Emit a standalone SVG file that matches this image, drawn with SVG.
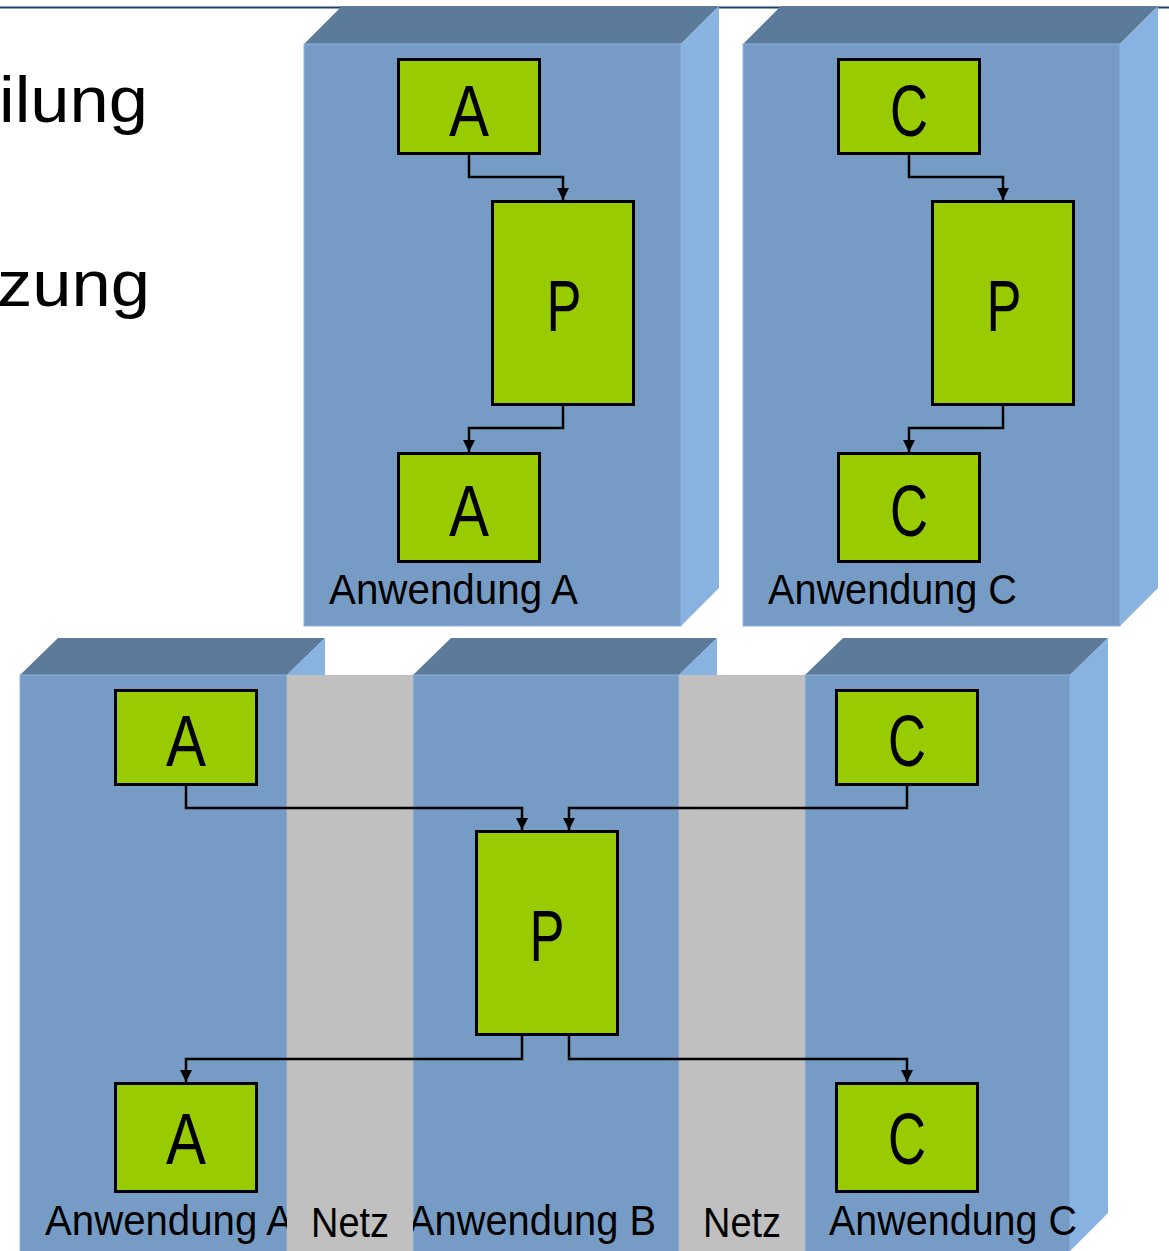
<svg xmlns="http://www.w3.org/2000/svg" width="1169" height="1251" viewBox="0 0 1169 1251">
<style>
.front{fill:#769CC6;stroke:#8DB4E2;stroke-width:1}
.top{fill:#5C7A9A}
.side{fill:#88B3E0}
.net{fill:#C0C0C0}
.node{fill:#99CC00;stroke:#000;stroke-width:3}
.big{font-family:"Liberation Sans",Arial,sans-serif;font-size:72px;fill:#000;text-anchor:middle}
.lbl{font-family:"Liberation Sans",Arial,sans-serif;font-size:42px;fill:#000}
.head{font-family:"Liberation Sans",Arial,sans-serif;font-size:64px;fill:#000}
.conn{fill:none;stroke:#000;stroke-width:2.5}
</style>
<defs>
<marker id="arr" viewBox="0 0 10 10" refX="10" refY="5" markerWidth="12" markerHeight="12" markerUnits="userSpaceOnUse" orient="auto">
<path d="M0,0 L10,5 L0,10 z" fill="#000"/>
</marker>
</defs>
<rect width="1169" height="1251" fill="#fff"/>
<line x1="0" y1="7.5" x2="1169" y2="7.5" stroke="#1F3F6B" stroke-width="2"/>
<text class="head" x="-1" y="122" textLength="149" lengthAdjust="spacingAndGlyphs">ilung</text>
<text class="head" x="-3" y="306" textLength="153" lengthAdjust="spacingAndGlyphs">zung</text>

<g id="box-top-A">
<polygon class="top" points="304,44 342,6 719,6 681,44"/>
<polygon class="side" points="681,44 719,6 719,588 681,626"/>
<rect class="front" x="304" y="44" width="377" height="582"/>
<text class="lbl" x="329" y="604" textLength="249" lengthAdjust="spacingAndGlyphs">Anwendung A</text>
</g>
<g id="box-top-C">
<polygon class="top" points="743,44 781,6 1158,6 1120,44"/>
<polygon class="side" points="1120,44 1158,6 1158,588 1120,626"/>
<rect class="front" x="743" y="44" width="377" height="582"/>
<text class="lbl" x="768" y="604" textLength="249" lengthAdjust="spacingAndGlyphs">Anwendung C</text>
</g>

<g id="box-bottom-A">
<polygon class="top" points="20,675 58,638 325,638 287,675"/>
<polygon class="side" points="287,675 325,638 325,1213 287,1251"/>
<rect class="front" x="20" y="675" width="267" height="580"/>
<text class="lbl" x="45" y="1235" textLength="248" lengthAdjust="spacingAndGlyphs">Anwendung A</text>
</g>
<g id="box-bottom-B">
<polygon class="top" points="413,675 451,638 717,638 679,675"/>
<polygon class="side" points="679,675 717,638 717,1213 679,1251"/>
<rect class="front" x="413" y="675" width="266" height="580"/>
<text class="lbl" x="408" y="1235" textLength="248" lengthAdjust="spacingAndGlyphs">Anwendung B</text>
</g>
<g id="box-bottom-C">
<polygon class="top" points="805,675 843,638 1108,638 1070,675"/>
<polygon class="side" points="1070,675 1108,638 1108,1213 1070,1251"/>
<rect class="front" x="805" y="675" width="265" height="580"/>
<text class="lbl" x="829" y="1235" textLength="248" lengthAdjust="spacingAndGlyphs">Anwendung C</text>
</g>

<g id="netz-1">
<rect class="net" x="287" y="675" width="126" height="576"/>
<text class="lbl" x="311" y="1237" textLength="78" lengthAdjust="spacingAndGlyphs">Netz</text>
</g>
<g id="netz-2">
<rect class="net" x="679" y="675" width="126" height="576"/>
<text class="lbl" x="703" y="1237" textLength="78" lengthAdjust="spacingAndGlyphs">Netz</text>
</g>

<g id="t-A1"><rect class="node" x="398.5" y="59.5" width="141" height="94"/><text class="big" x="469" y="136" textLength="40" lengthAdjust="spacingAndGlyphs">A</text></g>
<g id="t-P1"><rect class="node" x="492.5" y="201.5" width="141" height="203"/><text class="big" x="564" y="331" textLength="35" lengthAdjust="spacingAndGlyphs">P</text></g>
<g id="t-A2"><rect class="node" x="398.5" y="453.5" width="141" height="108"/><text class="big" x="469" y="536" textLength="40" lengthAdjust="spacingAndGlyphs">A</text></g>
<g id="t-C1"><rect class="node" x="838.5" y="59.5" width="141" height="94"/><text class="big" x="909" y="136" textLength="38" lengthAdjust="spacingAndGlyphs">C</text></g>
<g id="t-P2"><rect class="node" x="932.5" y="201.5" width="141" height="203"/><text class="big" x="1004" y="331" textLength="35" lengthAdjust="spacingAndGlyphs">P</text></g>
<g id="t-C2"><rect class="node" x="838.5" y="453.5" width="141" height="108"/><text class="big" x="909" y="536" textLength="38" lengthAdjust="spacingAndGlyphs">C</text></g>

<g id="b-A1"><rect class="node" x="115.5" y="690.5" width="141" height="94"/><text class="big" x="186" y="766" textLength="40" lengthAdjust="spacingAndGlyphs">A</text></g>
<g id="b-C1"><rect class="node" x="836.5" y="690.5" width="141" height="94"/><text class="big" x="907" y="766" textLength="38" lengthAdjust="spacingAndGlyphs">C</text></g>
<g id="b-P"><rect class="node" x="476.5" y="831.5" width="141" height="203"/><text class="big" x="547" y="961" textLength="35" lengthAdjust="spacingAndGlyphs">P</text></g>
<g id="b-A2"><rect class="node" x="115.5" y="1083.5" width="141" height="108"/><text class="big" x="186" y="1164" textLength="40" lengthAdjust="spacingAndGlyphs">A</text></g>
<g id="b-C2"><rect class="node" x="836.5" y="1083.5" width="141" height="108"/><text class="big" x="907" y="1164" textLength="38" lengthAdjust="spacingAndGlyphs">C</text></g>

<g id="connectors">
<polyline class="conn" marker-end="url(#arr)" points="469,155 469,177 563,177 563,200"/>
<polyline class="conn" marker-end="url(#arr)" points="563,406 563,428 469,428 469,452"/>
<polyline class="conn" marker-end="url(#arr)" points="909,155 909,177 1003,177 1003,200"/>
<polyline class="conn" marker-end="url(#arr)" points="1003,406 1003,428 909,428 909,452"/>
<polyline class="conn" marker-end="url(#arr)" points="186,786 186,808 522,808 522,830"/>
<polyline class="conn" marker-end="url(#arr)" points="907,786 907,808 569,808 569,830"/>
<polyline class="conn" marker-end="url(#arr)" points="522,1036 522,1059 186,1059 186,1082"/>
<polyline class="conn" marker-end="url(#arr)" points="569,1036 569,1059 907,1059 907,1082"/>
</g>
</svg>
